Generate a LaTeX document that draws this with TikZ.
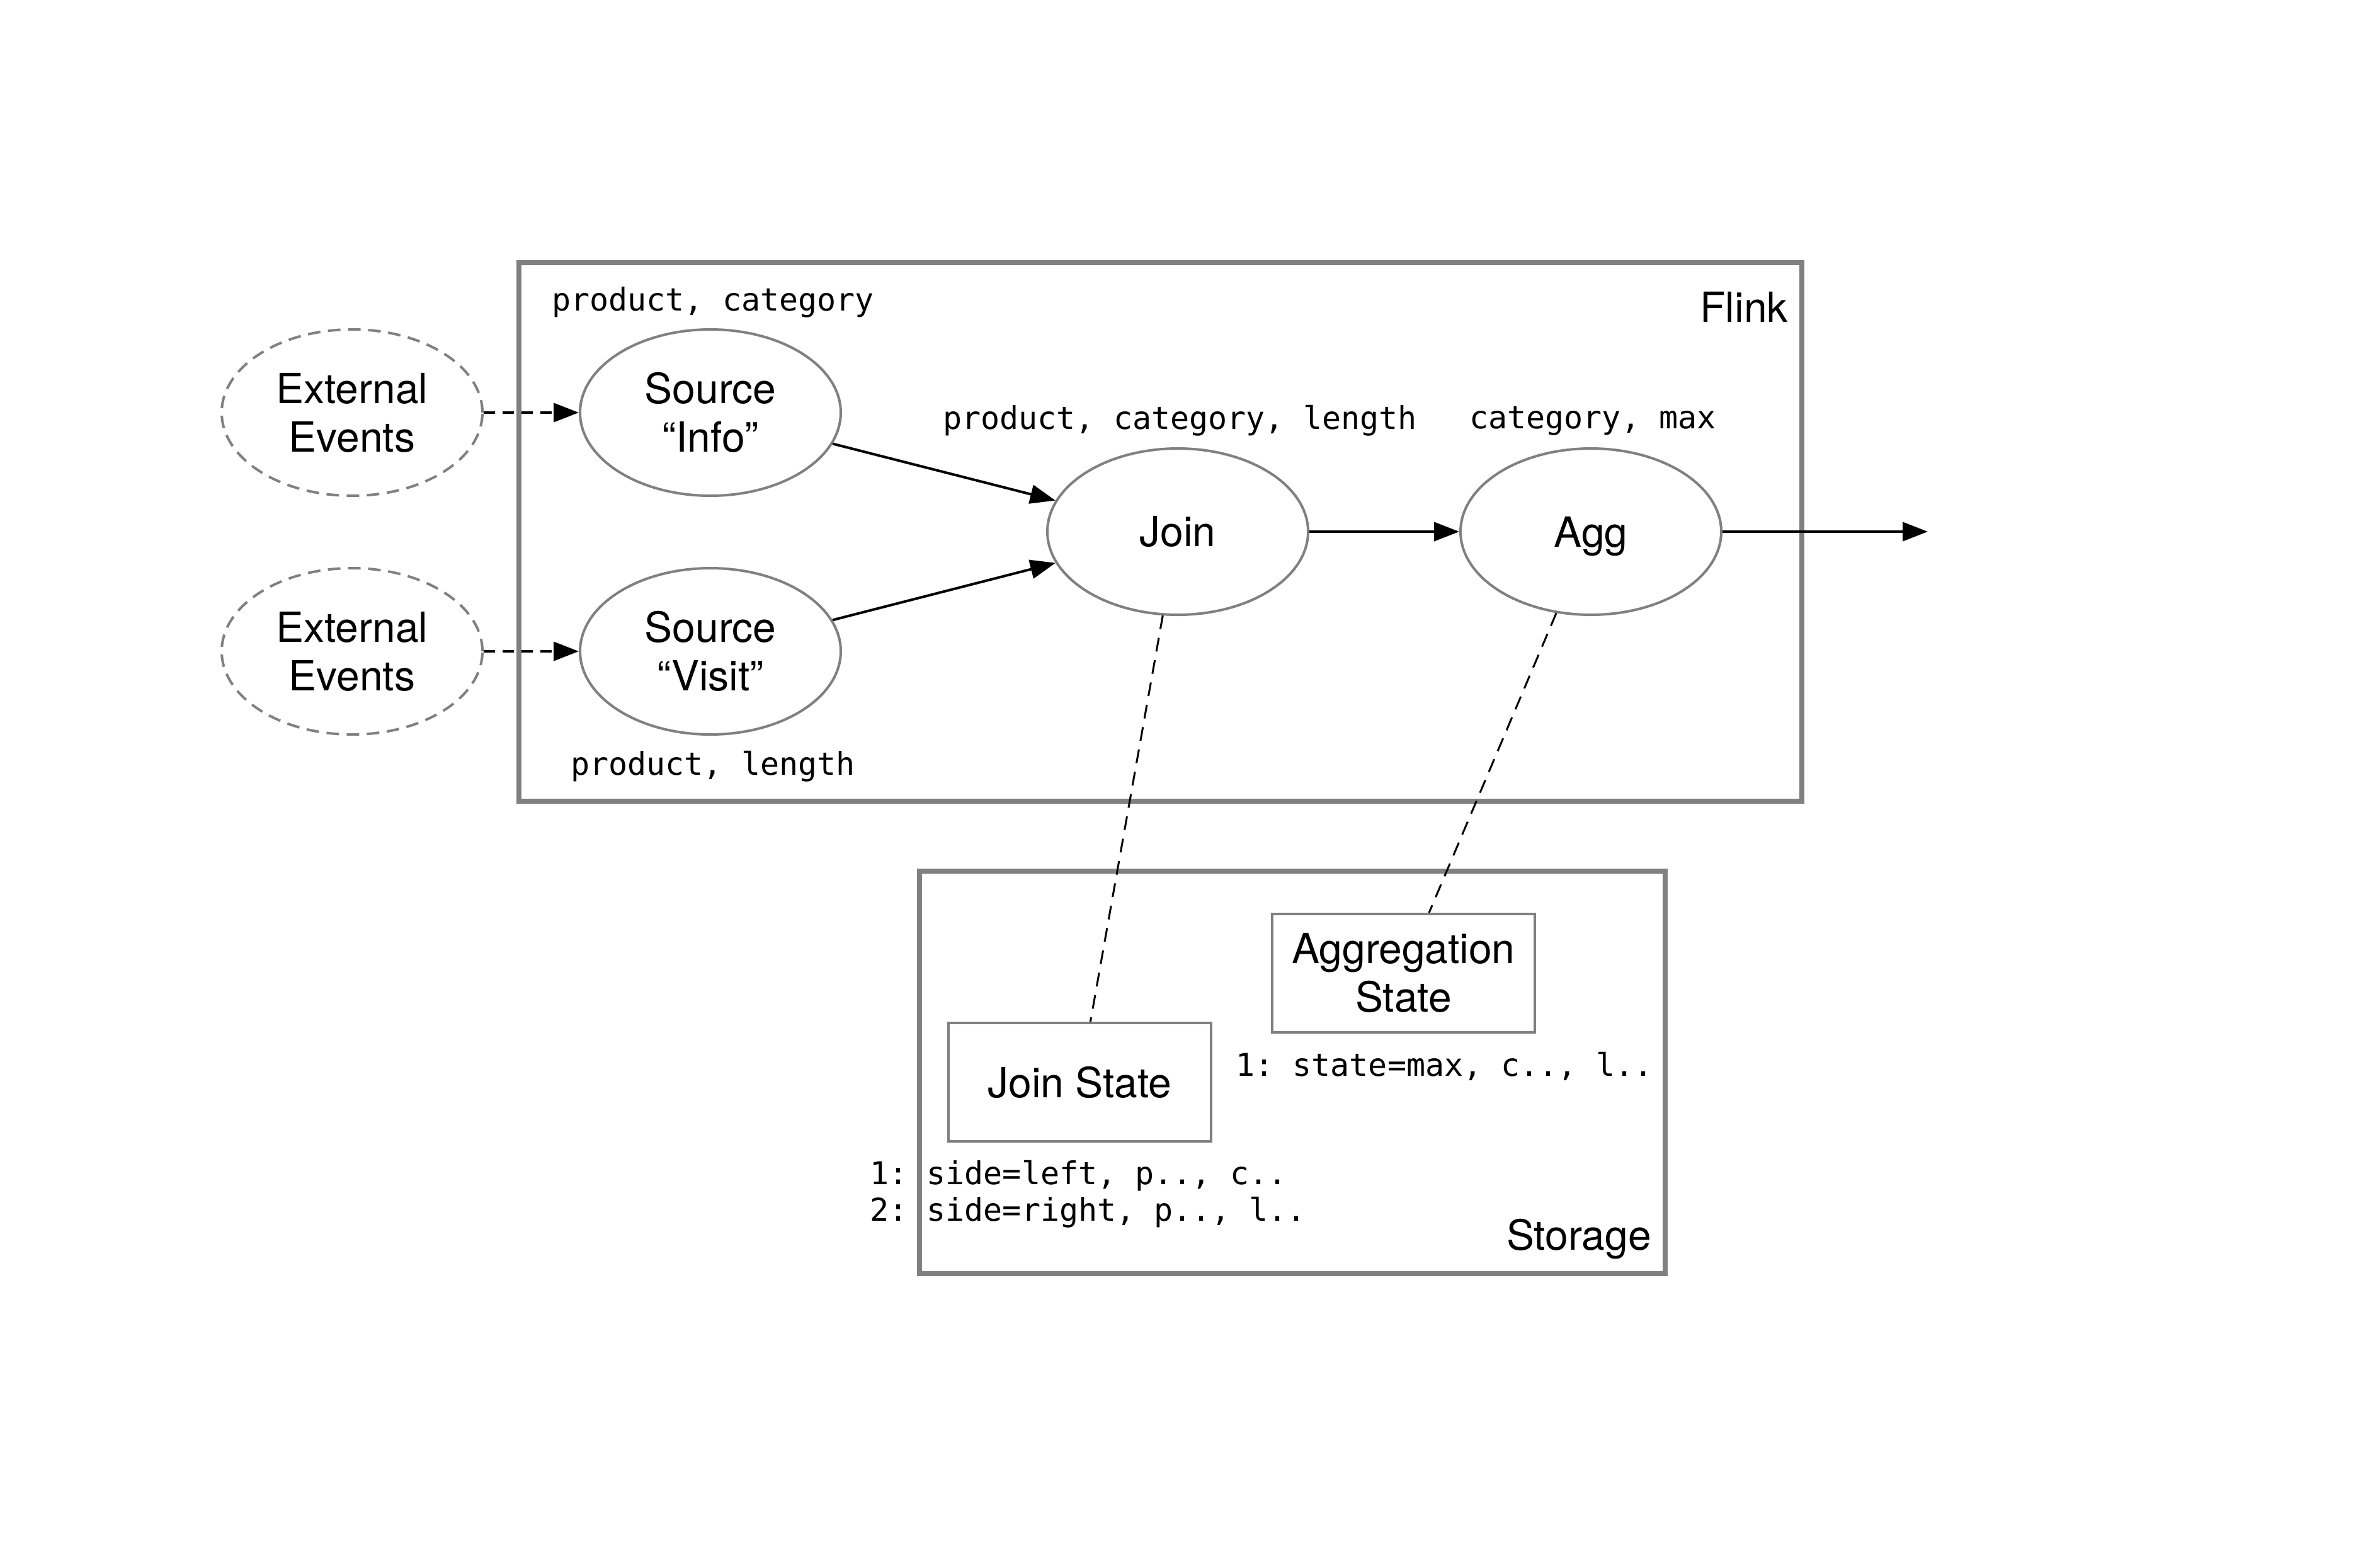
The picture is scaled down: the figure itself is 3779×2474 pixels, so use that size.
\documentclass[tikz,border=0pt]{standalone}
\usepackage{fontspec}
\setmainfont{TeX Gyre Heros}
\setmonofont{DejaVu Sans Mono}
\usetikzlibrary{shapes.geometric,arrows.meta}
\definecolor{bord}{HTML}{808080}
\begin{document}
\begin{tikzpicture}[x=1pt,y=-1pt,
  lbl/.style={font=\fontsize{66}{77}\selectfont, align=center},
  mono/.style={font=\fontsize{50}{58}\selectfont\ttfamily, inner sep=0pt, align=left},
  op/.style={ellipse, draw=bord, line width=4pt, minimum width=414pt, minimum height=264pt, inner sep=0pt, lbl},
  ext/.style={op, dash pattern=on 20pt off 12pt},
  frame/.style={rectangle, draw=bord, line width=8pt, inner sep=0pt},
  statebox/.style={rectangle, draw=bord, line width=4pt, minimum width=417pt, minimum height=188pt, inner sep=0pt, lbl},
  flow/.style={line width=4pt, -{Triangle[length=40pt,width=30pt]}},
  dflow/.style={flow, dash pattern=on 18pt off 12pt},
  link/.style={line width=3pt, dash pattern=on 22pt off 14pt}
]
\useasboundingbox (0,0) rectangle (3779,2474);

% frames
\node[frame, minimum width=2037pt, minimum height=855pt] (flink) at (1842.5,844.5) {};
\node[frame, minimum width=1184pt, minimum height=639pt] (storage) at (2052,1702.5) {};
\node[lbl, anchor=east, inner sep=0pt] (flinklbl) at (2839,487) {Flink};
\node[lbl, anchor=east, inner sep=0pt] (storagelbl) at (2622,1967) {Storage};

% external events
\node[ext] (ext1) at (559,655) {External\\Events};
\node[ext] (ext2) at (559,1034) {External\\Events};

% operators
\node[op] (info) at (1128,655) {Source\\“Info”};
\node[op] (visit) at (1128,1034) {Source\\“Visit”};
\node[op] (join) at (1870,844) {Join};
\node[op, text depth=0pt] (agg) at (2526,844) {Agg};
\coordinate (out) at (3061,844);

% state boxes
\node[statebox] (joinstate) at (1714.5,1718) {Join State};
\node[statebox] (aggstate) at (2228.5,1545) {Aggregation\\State};

% schema labels
\node[mono, anchor=west] (l1) at (876,480) {product, category};
\node[mono, anchor=west] (l2) at (1497,668) {product, category, length};
\node[mono, anchor=west] (l3) at (2333,668) {category, max};
\node[mono, anchor=west] (l4) at (906,1217) {product, length};
\node[mono, anchor=west] (l5) at (1962,1693) {1: state=max, c.., l..};
\node[mono, anchor=west] (l6) at (1381,1896) {1: side=left, p.., c..\\2: side=right, p.., l..};

% connectors
\draw[dflow] (ext1) -- (info);
\draw[dflow] (ext2) -- (visit);
\draw[flow] (info) -- (join);
\draw[flow] (visit) -- (join);
\draw[flow] (join) -- (agg);
\draw[flow] (agg) -- (out);
\draw[link] (join) -- (joinstate);
\draw[link] (agg) -- (aggstate);
\end{tikzpicture}
\end{document}
